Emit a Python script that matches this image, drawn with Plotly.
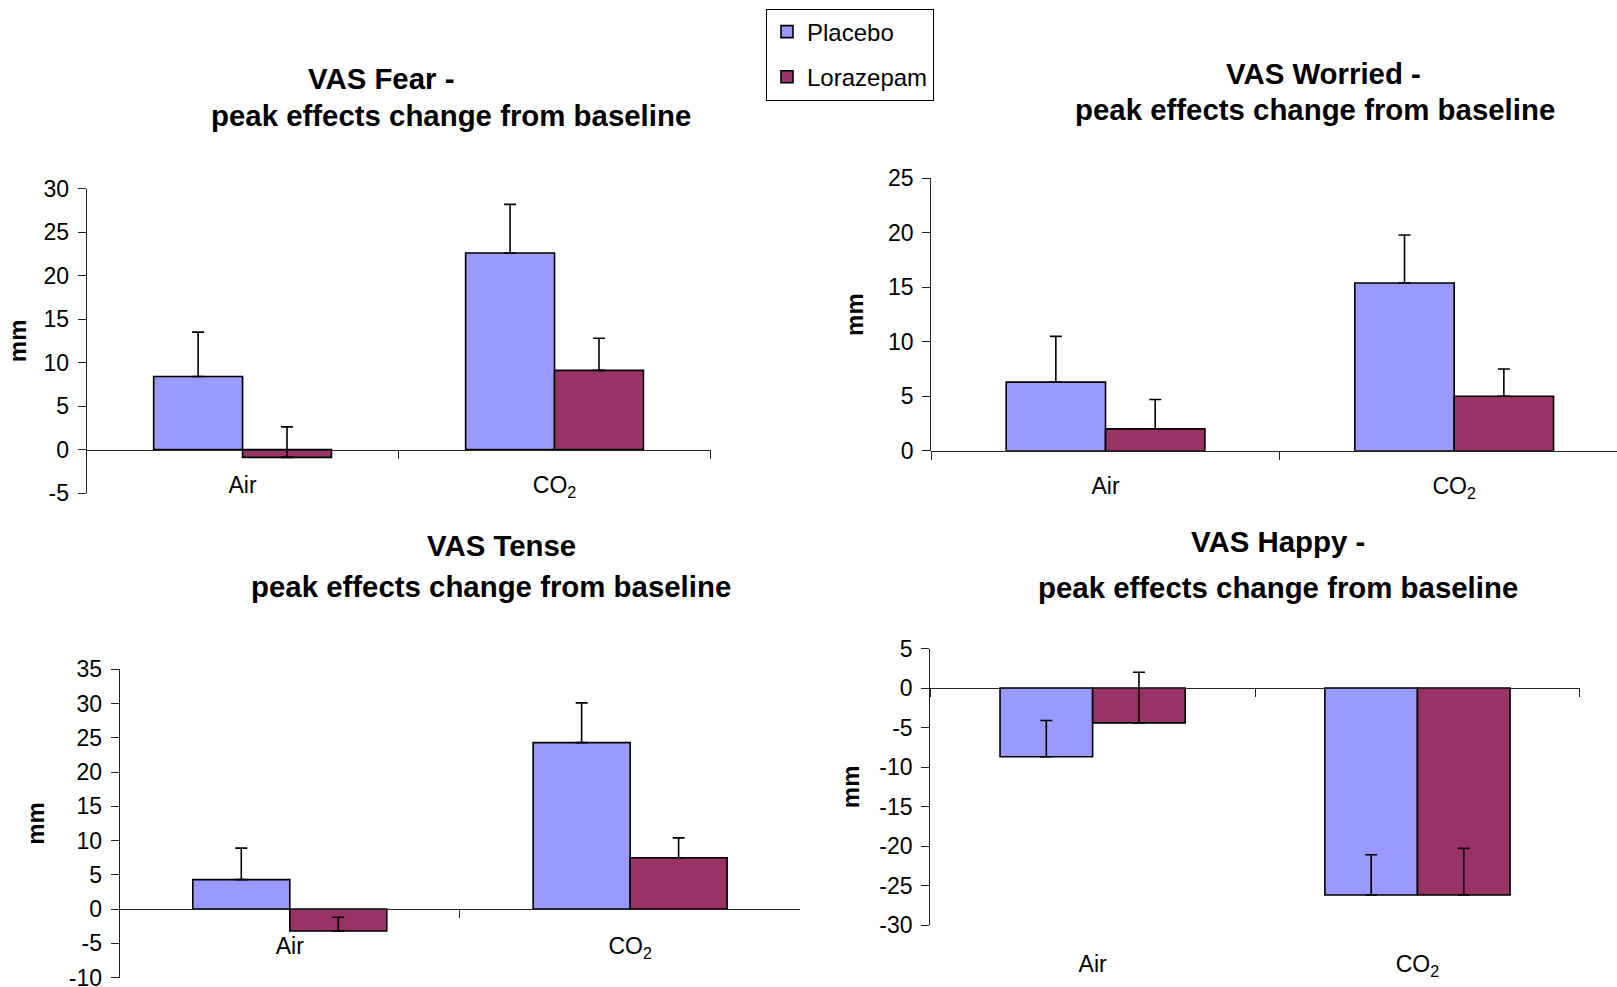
import plotly.graph_objects as go

# ---- data -------------------------------------------------------------
categories = ["Air", "CO<sub>2</sub>"]

fear_placebo = [8.4, 22.6]
fear_placebo_err = [5.1, 5.6]
fear_loraz = [-0.9, 9.1]
fear_loraz_err = [3.5, 3.7]

worried_placebo = [6.3, 15.4]
worried_placebo_err = [4.2, 4.4]
worried_loraz = [2.0, 5.0]
worried_loraz_err = [2.7, 2.5]

tense_placebo = [4.3, 24.3]
tense_placebo_err = [4.6, 5.8]
tense_loraz = [-3.2, 7.5]
tense_loraz_err = [2.0, 2.9]

happy_placebo = [-8.7, -26.2]
happy_placebo_err = [4.6, 5.1]
happy_loraz = [-4.4, -26.2]
happy_loraz_err = [6.4, 5.9]

fear_ticks = [-5, 0, 5, 10, 15, 20, 25, 30]
worried_ticks = [0, 5, 10, 15, 20, 25]
tense_ticks = [-10, -5, 0, 5, 10, 15, 20, 25, 30, 35]
happy_ticks = [-30, -25, -20, -15, -10, -5, 0, 5]

series_names = ["Placebo", "Lorazepam"]
titles = [
    ("VAS Fear -", "peak effects change from baseline"),
    ("VAS Worried -", "peak effects change from baseline"),
    ("VAS Tense", "peak effects change from baseline"),
    ("VAS Happy -", "peak effects change from baseline"),
]

# ---- styling ----------------------------------------------------------
W, H = 1617, 987
FONT = "Liberation Sans, Arial, sans-serif"
PLACEBO_COLOR = "#9999FF"
LORAZ_COLOR = "#993366"


def px_x(p):
    return p / W


def px_y(p):
    return (H - p) / H


# panel geometry: x domain, y domain (pixels), y ticks, x range, offsets
panels = [
    dict(key="1", xd=(86.6, 710.5), yd=(188.7, 493.0), ticks=fear_ticks,
         xr=(-0.5, 1.5), data=(fear_placebo, fear_placebo_err, fear_loraz, fear_loraz_err),
         title_xy=((380.5, 78.5), (450.7, 115.5)), label_off=15, title_off=10),
    dict(key="2", xd=(931.2, 1617), yd=(178.4, 450.7), ticks=worried_ticks,
         xr=(-0.5, 1.467), data=(worried_placebo, worried_placebo_err, worried_loraz, worried_loraz_err),
         title_xy=((1323, 73.5), (1315, 109.5)), label_off=15, title_off=17),
    dict(key="3", xd=(119.6, 800.3), yd=(669.3, 977.6), ticks=tense_ticks,
         xr=(-0.5, 1.5), data=(tense_placebo, tense_placebo_err, tense_loraz, tense_loraz_err),
         title_xy=((501, 545.5), (491, 586)), label_off=16, title_off=17),
    dict(key="4", xd=(930.2, 1579.9), yd=(648.6, 925.0), ticks=happy_ticks,
         xr=(-0.5, 1.5), data=(happy_placebo, happy_placebo_err, happy_loraz, happy_loraz_err),
         title_xy=((1277.7, 541.5), (1277.7, 587)), label_off=255, title_off=12),
]

fig = go.Figure()
annotations = []

for i, p in enumerate(panels):
    k = p["key"]
    xref = "x" if k == "1" else "x" + k
    yref = "y" if k == "1" else "y" + k
    pv, pe, lv, le = p["data"]
    for name, vals, errs, color in (
        (series_names[0], pv, pe, PLACEBO_COLOR),
        (series_names[1], lv, le, LORAZ_COLOR),
    ):
        fig.add_trace(go.Bar(
            x=categories, y=vals, name=name,
            marker=dict(color=color, line=dict(color="black", width=1.6)),
            error_y=dict(type="data", symmetric=False, array=errs,
                         arrayminus=[0] * len(errs), color="black",
                         thickness=1.6, width=6),
            xaxis=xref, yaxis=yref,
            legendgroup=name, showlegend=(i == 0),
        ))

    tv = p["ticks"]
    y0, y1 = tv[0], tv[-1]
    x_dom = [px_x(p["xd"][0]), px_x(p["xd"][1])]
    y_dom = [px_y(p["yd"][1]), px_y(p["yd"][0])]
    zero_pos = y_dom[0] + (0 - y0) / (y1 - y0) * (y_dom[1] - y_dom[0])

    xa = dict(
        domain=x_dom, anchor="free", position=zero_pos, type="category",
        range=list(p["xr"]), tickson="boundaries", ticks="outside", ticklen=8,
        tickwidth=1, tickcolor="#222", showline=True, linecolor="#222",
        linewidth=1, showgrid=False, zeroline=False, automargin=False,
        tickfont=dict(family=FONT, size=23, color="black"),
        ticklabelstandoff=p["label_off"],
    )
    ya = dict(
        domain=y_dom, anchor=xref, range=[y0, y1],
        tickmode="array", tickvals=tv, ticktext=[str(v) for v in tv],
        ticks="outside", ticklen=8, tickwidth=1, tickcolor="#222",
        showline=True, linecolor="#222", linewidth=1, showgrid=False,
        zeroline=False, automargin=False, ticklabeloverflow="allow",
        ticklabelstandoff=4,
        tickfont=dict(family=FONT, size=23, color="black"),
        title=dict(text="<b>mm</b>", font=dict(family=FONT, size=24, color="black"),
                   standoff=p["title_off"]),
    )
    fig.layout["xaxis" if k == "1" else "xaxis" + k] = xa
    fig.layout["yaxis" if k == "1" else "yaxis" + k] = ya

    for (tx, ty), txt in zip(p["title_xy"], titles[i]):
        annotations.append(dict(
            x=px_x(tx), y=px_y(ty), xref="paper", yref="paper",
            xanchor="center", yanchor="middle", showarrow=False,
            text="<b>" + txt + "</b>",
            font=dict(family=FONT, size=29.4, color="black"),
        ))

fig.update_layout(
    width=W, height=H,
    margin=dict(l=0, r=0, t=0, b=0, autoexpand=False),
    paper_bgcolor="white", plot_bgcolor="white",
    barmode="group", bargap=0.43, bargroupgap=0,
    font=dict(family=FONT, color="black"),
    annotations=annotations,
    legend=dict(
        x=px_x(766), y=px_y(8.5), xanchor="left", yanchor="top",
        bordercolor="black", borderwidth=1, bgcolor="white",
        font=dict(family=FONT, size=24, color="black"),
        tracegroupgap=11, traceorder="grouped",
        entrywidth=162, entrywidthmode="pixels",
    ),
)

fig.write_html("out.html")
